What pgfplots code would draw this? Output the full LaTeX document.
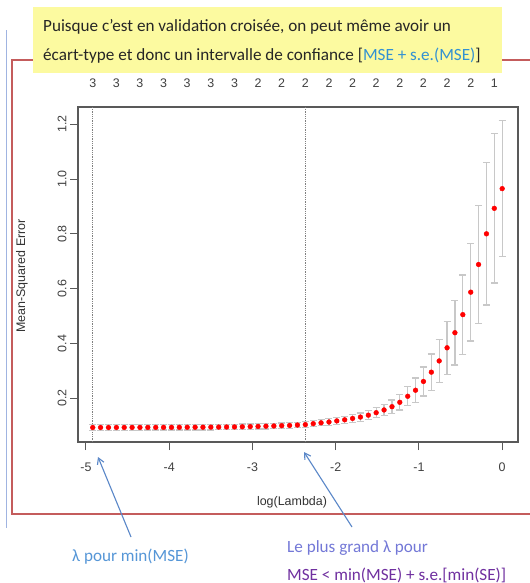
\documentclass[border=0pt]{standalone}
\usepackage{fontspec}
\setmainfont{Carlito}
\newfontfamily\rfont{Liberation Sans}
\usepackage{pgfplots}
\usepackage{pgfplotstable}
\pgfplotsset{compat=1.18}
\usetikzlibrary{arrows.meta}

\definecolor{slideyellow}{RGB}{252,250,160}
\definecolor{framered}{RGB}{196,92,92}
\definecolor{ruleblue}{RGB}{160,180,225}
\definecolor{msecyan}{RGB}{50,145,210}
\definecolor{arrowblue}{RGB}{90,135,200}
\definecolor{noteblue}{RGB}{85,150,215}
\definecolor{notelav}{RGB}{115,120,215}
\definecolor{notepurple}{RGB}{112,48,160}
\definecolor{errgray}{RGB}{200,200,200}

% cross-validated MSE along the lambda path: log(lambda), mean, standard error
\pgfplotstableread{
x      y       se
0.000  0.965   0.248
-0.095 0.893   0.272
-0.189 0.800   0.260
-0.284 0.688   0.216
-0.378 0.587   0.178
-0.473 0.505   0.145
-0.568 0.439   0.118
-0.662 0.384   0.097
-0.757 0.336   0.079
-0.851 0.295   0.066
-0.946 0.261   0.053
-1.041 0.229   0.045
-1.135 0.207   0.035
-1.230 0.185   0.028
-1.324 0.169   0.024
-1.419 0.157   0.020
-1.514 0.147   0.018
-1.608 0.138   0.016
-1.703 0.131   0.015
-1.797 0.126   0.014
-1.892 0.121   0.013
-1.987 0.117   0.012
-2.081 0.113   0.012
-2.176 0.110   0.011
-2.270 0.107   0.011
-2.365 0.1035  0.011
-2.460 0.102   0.010
-2.554 0.1005  0.010
-2.649 0.0995  0.010
-2.743 0.0985  0.010
-2.838 0.0977  0.010
-2.933 0.0970  0.010
-3.027 0.0962  0.010
-3.122 0.0955  0.010
-3.216 0.0950  0.010
-3.311 0.0947  0.010
-3.406 0.0945  0.010
-3.500 0.0943  0.010
-3.595 0.0941  0.010
-3.689 0.0940  0.010
-3.784 0.0938  0.010
-3.879 0.0937  0.010
-3.973 0.0936  0.010
-4.068 0.0935  0.010
-4.162 0.0934  0.010
-4.257 0.0933  0.010
-4.352 0.0932  0.010
-4.446 0.0932  0.010
-4.541 0.0931  0.010
-4.635 0.0931  0.010
-4.730 0.0930  0.010
-4.825 0.0930  0.010
-4.919 0.0929  0.010
}\cvtable

\begin{document}
\begin{tikzpicture}
\fill[white] (0,0) rectangle (530bp,-583bp);
\useasboundingbox (0,0) rectangle (530bp,-583bp);

% slide decorations
\draw[ruleblue, line width=1.3bp] (6.5bp,-30bp) -- (6.5bp,-528bp);
\draw[framered, line width=2bp] (530bp,-60bp) -- (12bp,-60bp) -- (12bp,-514bp) -- (530bp,-514bp);

\fill[slideyellow] (33bp,-7bp) rectangle (502bp,-73bp);
\node[anchor=west, inner sep=0pt, font=\fontsize{17.2}{19}\selectfont, text=black!85] at (43bp,-27bp)
  {Puisque c’est en validation croisée, on peut même avoir un};
\node[anchor=west, inner sep=0pt, font=\fontsize{17.2}{19}\selectfont, text=black!85] at (43bp,-56bp)
  {écart-type et donc un intervalle de confiance [\textcolor{msecyan}{MSE + s.e.(MSE)}]};

% cross-validation curve
\begin{axis}[
  at={(78bp,-442bp)}, anchor=south west, scale only axis,
  width=440bp, height=335bp,
  xmin=-5.096, xmax=0.19, ymin=0.04, ymax=1.263,
  axis line style={draw=black!65, line width=1.1bp},
  tick style={draw=black!65, line width=1bp},
  tick align=outside, major tick length=8bp,
  xtick={-5,-4,-3,-2,-1,0}, xticklabels={-5,-4,-3,-2,-1,0},
  ytick={0.2,0.4,0.6,0.8,1.0,1.2}, yticklabels={0.2,0.4,0.6,0.8,1.0,1.2},
  xtick pos=bottom, ytick pos=left,
  ticklabel style={font=\rfont\fontsize{12.5}{14}\selectfont, text=black!75},
  xticklabel style={anchor=north, yshift=-9bp},
  yticklabel style={rotate=90, anchor=south, xshift=0bp},
  clip=false,
]
\addplot[black!50, densely dotted, line width=0.8bp] coordinates {(-4.919,0.04) (-4.919,1.263)};
\addplot[black!50, densely dotted, line width=0.8bp] coordinates {(-2.365,0.04) (-2.365,1.263)};
\addplot[only marks, mark=*, mark size=2.4bp, mark options={fill=red, draw=red},
  error bars/.cd, y dir=both, y explicit,
  error bar style={errgray, line width=1.3bp},
  error mark options={rotate=90, errgray, mark size=3.5bp, line width=1.3bp}]
  table[x=x, y=y, y error=se] {\cvtable};
\end{axis}

% number of non-zero coefficients along the path
\begin{axis}[
  at={(78bp,-442bp)}, anchor=south west, scale only axis,
  width=440bp, height=335bp,
  xmin=-5.096, xmax=0.19, ymin=0.04, ymax=1.263,
  axis x line*=top, axis y line=none,
  x axis line style={draw=none},
  major tick length=0pt,
  xtick={-4.919,-4.635,-4.352,-4.068,-3.784,-3.500,-3.216,-2.933,-2.649,-2.365,-2.081,-1.797,-1.514,-1.230,-0.946,-0.662,-0.378,-0.095},
  xticklabels={3,3,3,3,3,3,3,2,2,2,2,2,2,2,2,2,2,1},
  xticklabel style={font=\rfont\fontsize{12.5}{14}\selectfont, text=black!75, anchor=south, yshift=16bp},
]
\end{axis}

\node[font=\rfont\fontsize{12.5}{14}\selectfont, text=black!80] at (292bp,-502bp) {log(Lambda)};
\node[rotate=90, font=\rfont\fontsize{12.5}{14}\selectfont, text=black!80] at (22bp,-276bp) {Mean-Squared Error};

% annotations
\draw[arrowblue, line width=1.1bp, -{Straight Barb[length=6bp, width=7bp]}] (131bp,-537bp) -- (98bp,-457bp);
\draw[arrowblue, line width=1.1bp, -{Straight Barb[length=6bp, width=7bp]}] (352bp,-527bp) -- (304bp,-452bp);
\node[anchor=west, inner sep=0pt, font=\fontsize{17.2}{19}\selectfont, text=noteblue] at (72bp,-557bp) {λ pour min(MSE)};
\node[anchor=west, inner sep=0pt, font=\fontsize{17.2}{19}\selectfont, text=notelav] at (287bp,-548bp) {Le plus grand λ pour};
\node[anchor=west, inner sep=0pt, font=\fontsize{17.2}{19}\selectfont, text=notepurple] at (287bp,-575bp) {MSE < min(MSE) + s.e.[min(SE)]};
\end{tikzpicture}
\end{document}
